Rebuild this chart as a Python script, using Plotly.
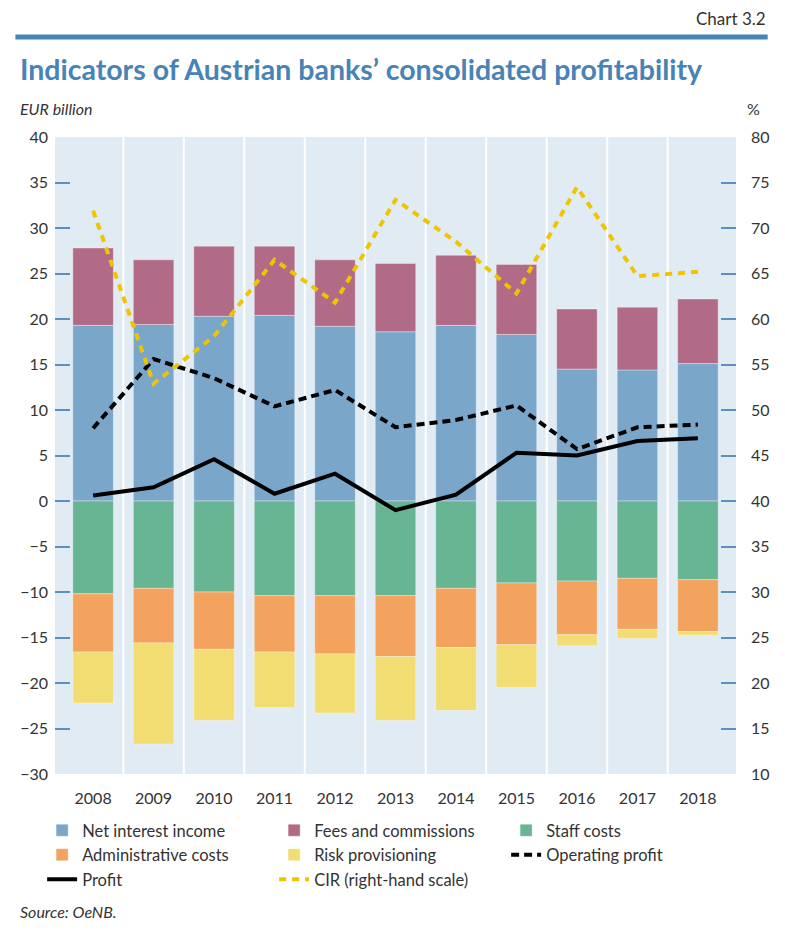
import plotly.graph_objects as go

years = ["2008", "2009", "2010", "2011", "2012", "2013", "2014", "2015", "2016", "2017", "2018"]

net_interest = [19.3, 19.4, 20.3, 20.4, 19.2, 18.6, 19.3, 18.3, 14.5, 14.4, 15.1]
fees = [8.5, 7.1, 7.7, 7.6, 7.3, 7.5, 7.7, 7.7, 6.6, 6.9, 7.1]
staff = [-10.2, -9.6, -10.0, -10.4, -10.4, -10.4, -9.6, -9.0, -8.8, -8.5, -8.65]
admin = [-6.4, -6.0, -6.3, -6.2, -6.4, -6.7, -6.5, -6.8, -5.9, -5.6, -5.7]
risk = [-5.6, -11.1, -7.8, -6.1, -6.5, -7.0, -6.9, -4.7, -1.2, -1.0, -0.4]
operating_profit = [8.0, 15.6, 13.5, 10.4, 12.2, 8.1, 8.9, 10.5, 5.7, 8.1, 8.4]
profit = [0.6, 1.5, 4.6, 0.8, 3.0, -1.0, 0.7, 5.3, 5.0, 6.6, 6.9]
cir = [71.9, 52.9, 58.1, 66.5, 61.8, 73.1, 68.5, 62.8, 74.5, 64.7, 65.2]

# figure sits 8px in from the page corner (body margin)
W, H = 777, 923
L, R, T, B = 40, 728, 129, 766


def px(x):
    return (x - L) / (R - L)


def py(y):
    return (B - y) / (B - T)


FONT = "Lato"
TXT = "#333333"
BLUE = "#4783b6"
TICK = "#5b8fc0"

fig = go.Figure()

bars = [
    ("Net interest income", net_interest, "#7aa6c9"),
    ("Fees and commissions", fees, "#b26b87"),
    ("Staff costs", staff, "#67b592"),
    ("Administrative costs", admin, "#f3a35e"),
    ("Risk provisioning", risk, "#f2dd72"),
]
for name, vals, col in bars:
    fig.add_trace(go.Bar(
        x=years, y=vals, name=name, width=0.67,
        marker=dict(color=col, line=dict(color="rgba(255,255,255,0.35)", width=1)),
    ))

fig.add_trace(go.Scatter(
    x=years, y=operating_profit, name="Operating profit", mode="lines",
    line=dict(color="black", width=4, dash="8px,5px"),
))
fig.add_trace(go.Scatter(
    x=years, y=profit, name="Profit", mode="lines",
    line=dict(color="black", width=4),
))
fig.add_trace(go.Scatter(
    x=years, y=cir, name="CIR (right-hand scale)", mode="lines", yaxis="y2",
    line=dict(color="#f0c400", width=4, dash="7px,6px"),
))

# white separators between years
shapes = []
for i in range(len(years) - 1):
    shapes.append(dict(type="line", xref="x", yref="paper", x0=i + 0.5, x1=i + 0.5,
                       y0=0, y1=1, line=dict(color="white", width=2), layer="below"))
# top rule
shapes.append(dict(type="line", xref="paper", yref="paper", x0=px(0), x1=px(760),
                   y0=py(29), y1=py(29), line=dict(color=BLUE, width=5)))

annotations = [
    dict(text="Chart 3.2", x=px(760), y=py(10), xanchor="right", yanchor="middle",
         font=dict(size=17, color=TXT)),
    dict(text="<b>Indicators of Austrian banks’ consolidated profitability</b>",
         x=px(3), y=py(61), xanchor="left", yanchor="middle",
         font=dict(size=28.5, color=BLUE)),
    dict(text="<i>EUR billion</i>", x=px(3), y=py(100), xanchor="left", yanchor="middle",
         font=dict(size=16, color=TXT)),
    dict(text="%", x=px(754), y=py(100), xanchor="right", yanchor="middle",
         font=dict(size=16, color=TXT)),
    dict(text="<i>Source: OeNB.</i>", x=px(3), y=py(903), xanchor="left", yanchor="middle",
         font=dict(size=16, color=TXT)),
]
for a in annotations:
    a.update(xref="paper", yref="paper", showarrow=False)

fig.update_layout(
    width=W, height=H,
    margin=dict(l=L, r=W - R, t=T, b=H - B),
    paper_bgcolor="white",
    plot_bgcolor="#e0ebf4",
    barmode="relative",
    bargap=0.33,
    font=dict(family=FONT, size=16, color=TXT),
    showlegend=True,
    legend=dict(
        orientation="h", x=px(27), y=py(805), xanchor="left", yanchor="top",
        entrywidth=187, entrywidthmode="pixels", font=dict(size=16.5, color=TXT),
        itemwidth=30, tracegroupgap=0, traceorder="normal",
        bgcolor="rgba(0,0,0,0)",
    ),
    xaxis=dict(
        type="category", range=[-0.63, len(years) - 0.37], showgrid=False,
        showline=False, ticks="", zeroline=False, ticklabelstandoff=13,
        tickfont=dict(size=16, color=TXT),
    ),
    yaxis=dict(
        range=[-30, 40], dtick=5, showgrid=False, zeroline=False, showline=False,
        ticks="inside", ticklen=15, tickwidth=1.5, tickcolor=TICK,
        ticklabelstandoff=6, tickfont=dict(size=16, color=TXT),
    ),
    yaxis2=dict(
        range=[10, 80], dtick=5, overlaying="y", side="right", showgrid=False,
        zeroline=False, showline=False, ticks="inside", ticklen=15, tickwidth=1.5,
        tickcolor=TICK, ticklabelstandoff=14, tickfont=dict(size=16, color=TXT),
    ),
    shapes=shapes,
    annotations=annotations,
)

fig.write_html("out.html")
